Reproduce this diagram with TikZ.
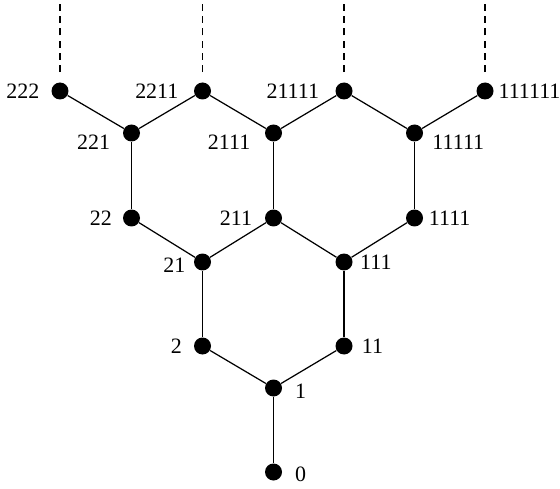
\documentclass[tikz,border=0pt]{standalone}
\usepackage{fontspec}
\setmainfont{Liberation Serif}
\tikzset{
    lattice-dot/.style = {circle, fill=black, draw=none, inner sep=0pt, minimum size=0.34cm},
    lattice-edge/.style = {line width=0.7pt},
    lattice-up/.style = {line width=0.7pt, dash pattern=on 4pt off 3pt, shorten <=0.2cm},
    every label/.style = {font=\fontsize{12.5}{14}\selectfont, inner sep=2pt},
}

\begin{document}
\begin{tikzpicture}[x=0.02cm, y=-0.02cm]
\useasboundingbox (0,0) rectangle (560,489);
% rank 0 to 2
\node [lattice-dot, label={[label distance=5pt, yshift=-1.5pt]right:0}] (n0) at (273.5,472) {};
\node [lattice-dot, label={[label distance=5pt, yshift=-2pt]right:1}] (n1) at (273.5,388) {};
\node [lattice-dot, label={[label distance=4.5pt]left:2}] (n2) at (202.5,346) {};
\node [lattice-dot, label={[label distance=3pt]right:11}] (n11) at (344,346) {};
% rank 3 and 4
\node [lattice-dot, label={[label distance=2.5pt, yshift=-1.7pt]left:21}] (n21) at (202.5,262) {};
\node [lattice-dot, label={[label distance=2pt]right:111}] (n111) at (344,262) {};
\node [lattice-dot, label={[label distance=4pt]left:22}] (n22) at (131.5,218) {};
\node [lattice-dot, label={[label distance=5pt]left:211}] (n211) at (273.5,218) {};
\node [lattice-dot, label={[label distance=1pt]right:1111}] (n1111) at (414.5,218) {};
% rank 5 and 6
\node [lattice-dot, label={[label distance=5pt, yshift=-5.5pt]left:221}] (n221) at (131.5,133) {};
\node [lattice-dot, label={[label distance=6pt, yshift=-5.5pt]left:2111}] (n2111) at (273.5,133) {};
\node [lattice-dot, label={[label distance=3pt, yshift=-5pt]right:11111}] (n11111) at (414.5,133) {};
\node [lattice-dot, label={[label distance=4.5pt]left:222}] (n222) at (60,91) {};
\node [lattice-dot, label={[label distance=6.5pt]left:2211}] (n2211) at (202.5,91) {};
\node [lattice-dot, label={[label distance=7pt]left:21111}] (n21111) at (344,91) {};
\node [lattice-dot, label={[label distance=0.5pt]right:111111}] (n111111) at (485,91) {};
% free ends of the dashed lines
\coordinate (t222) at (60,3);
\coordinate (t2211) at (202.5,3);
\coordinate (t21111) at (344,3);
\coordinate (t111111) at (485,3);

\draw [lattice-edge] (n0) -- (n1);
\draw [lattice-edge] (n1) -- (n2);
\draw [lattice-edge] (n1) -- (n11);
\draw [lattice-edge] (n2) -- (n21);
\draw [lattice-edge] (n11) -- (n111);
\draw [lattice-edge] (n21) -- (n22);
\draw [lattice-edge] (n21) -- (n211);
\draw [lattice-edge] (n111) -- (n211);
\draw [lattice-edge] (n111) -- (n1111);
\draw [lattice-edge] (n22) -- (n221);
\draw [lattice-edge] (n211) -- (n2111);
\draw [lattice-edge] (n1111) -- (n11111);
\draw [lattice-edge] (n221) -- (n222);
\draw [lattice-edge] (n221) -- (n2211);
\draw [lattice-edge] (n2111) -- (n2211);
\draw [lattice-edge] (n2111) -- (n21111);
\draw [lattice-edge] (n11111) -- (n21111);
\draw [lattice-edge] (n11111) -- (n111111);

\draw [lattice-up] (n222) -- (t222);
\draw [lattice-up] (n2211) -- (t2211);
\draw [lattice-up] (n21111) -- (t21111);
\draw [lattice-up] (n111111) -- (t111111);
\end{tikzpicture}
\end{document}
